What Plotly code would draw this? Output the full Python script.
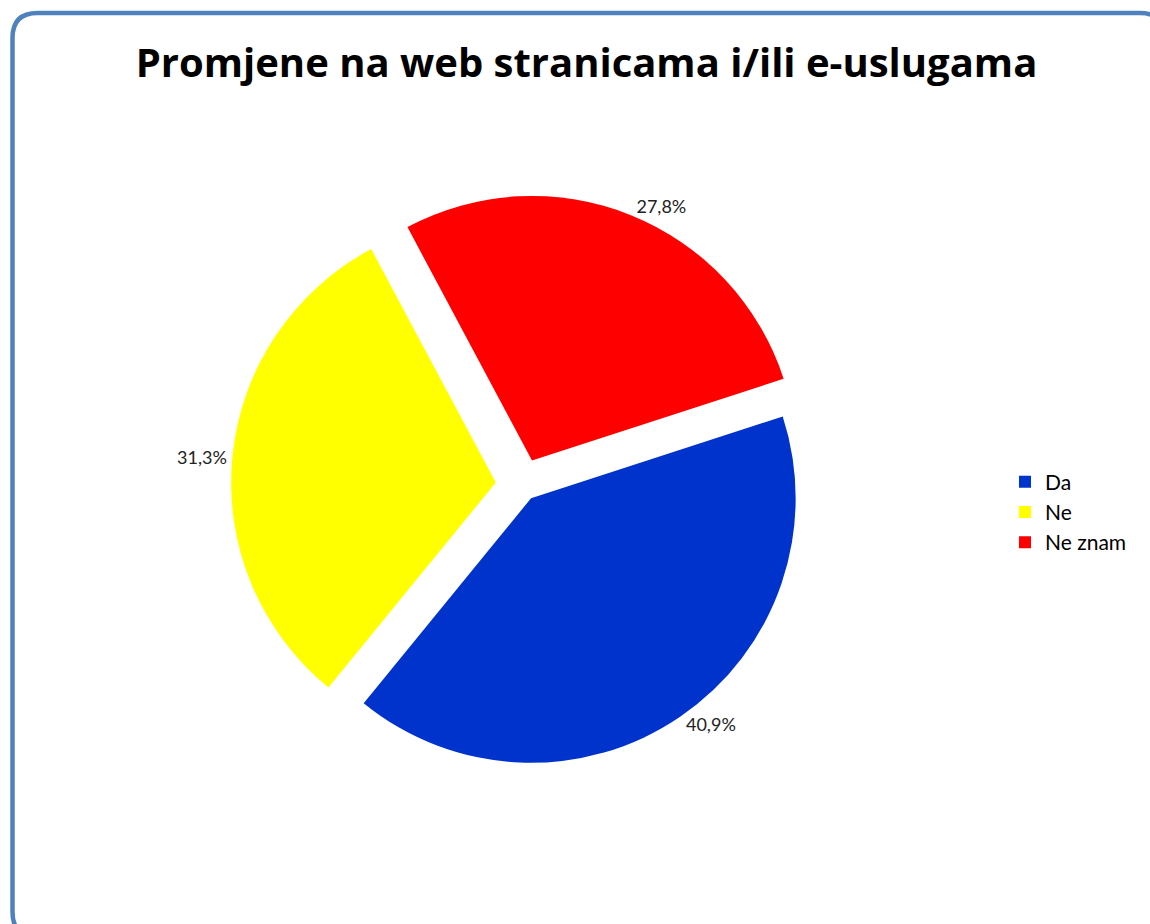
import plotly.graph_objects as go

# Data
categories = ["Da", "Ne", "Ne znam"]
values = [40.9, 31.3, 27.8]
colors = ["#0033CC", "#FFFF00", "#FF0000"]
title_text = "Promjene na web stranicama i/ili e-uslugama"

W, H = 1150, 924

fig = go.Figure(
    go.Pie(
        labels=categories,
        values=values,
        sort=False,
        direction="clockwise",
        rotation=72,
        pull=[0.06, 0.1, 0.1],
        marker=dict(colors=colors, line=dict(color="white", width=0)),
        texttemplate="%{percent:.1%}",
        textposition="outside",
        textfont=dict(family="Lato, Calibri, sans-serif", size=18, color="#222222"),
        domain=dict(x=[0.2, 0.708], y=[0.16, 0.79]),
        hoverinfo="label+percent",
    )
)

fig.update_layout(
    width=W,
    height=H,
    margin=dict(l=0, r=0, t=0, b=0),
    paper_bgcolor="white",
    plot_bgcolor="white",
    separators=", ",
    title=dict(
        text=title_text,
        x=0.51,
        xanchor="center",
        y=1 - 63 / H,
        yanchor="middle",
        font=dict(family="Open Sans, Calibri, sans-serif", size=40, color="black", weight="bold"),
    ),
    legend=dict(
        x=1005 / W,
        xanchor="left",
        y=1 - 512 / H,
        yanchor="middle",
        font=dict(family="Lato, Calibri, sans-serif", size=21, color="black"),
        bgcolor="rgba(0,0,0,0)",
    ),
    showlegend=True,
)

# Rounded chart-area border (Excel chart frame)
x0, y0, x1, y1, r = 12.5 / W, 1 - 13 / H, 1165 / W, 1 - 937 / H, 25
rx, ry = r / W, r / H
path = (
    f"M {x0+rx},{y0} L {x1-rx},{y0} Q {x1},{y0} {x1},{y0-ry} "
    f"L {x1},{y1+ry} Q {x1},{y1} {x1-rx},{y1} "
    f"L {x0+rx},{y1} Q {x0},{y1} {x0},{y1+ry} "
    f"L {x0},{y0-ry} Q {x0},{y0} {x0+rx},{y0} Z"
)
fig.add_shape(type="path", path=path, xref="paper", yref="paper",
              line=dict(color="#4F81BD", width=4.5), fillcolor="rgba(0,0,0,0)")

fig.write_html(
    "out.html",
    config={"displayModeBar": False},
    post_script="document.body.style.margin='0';document.body.style.overflow='hidden';",
)
